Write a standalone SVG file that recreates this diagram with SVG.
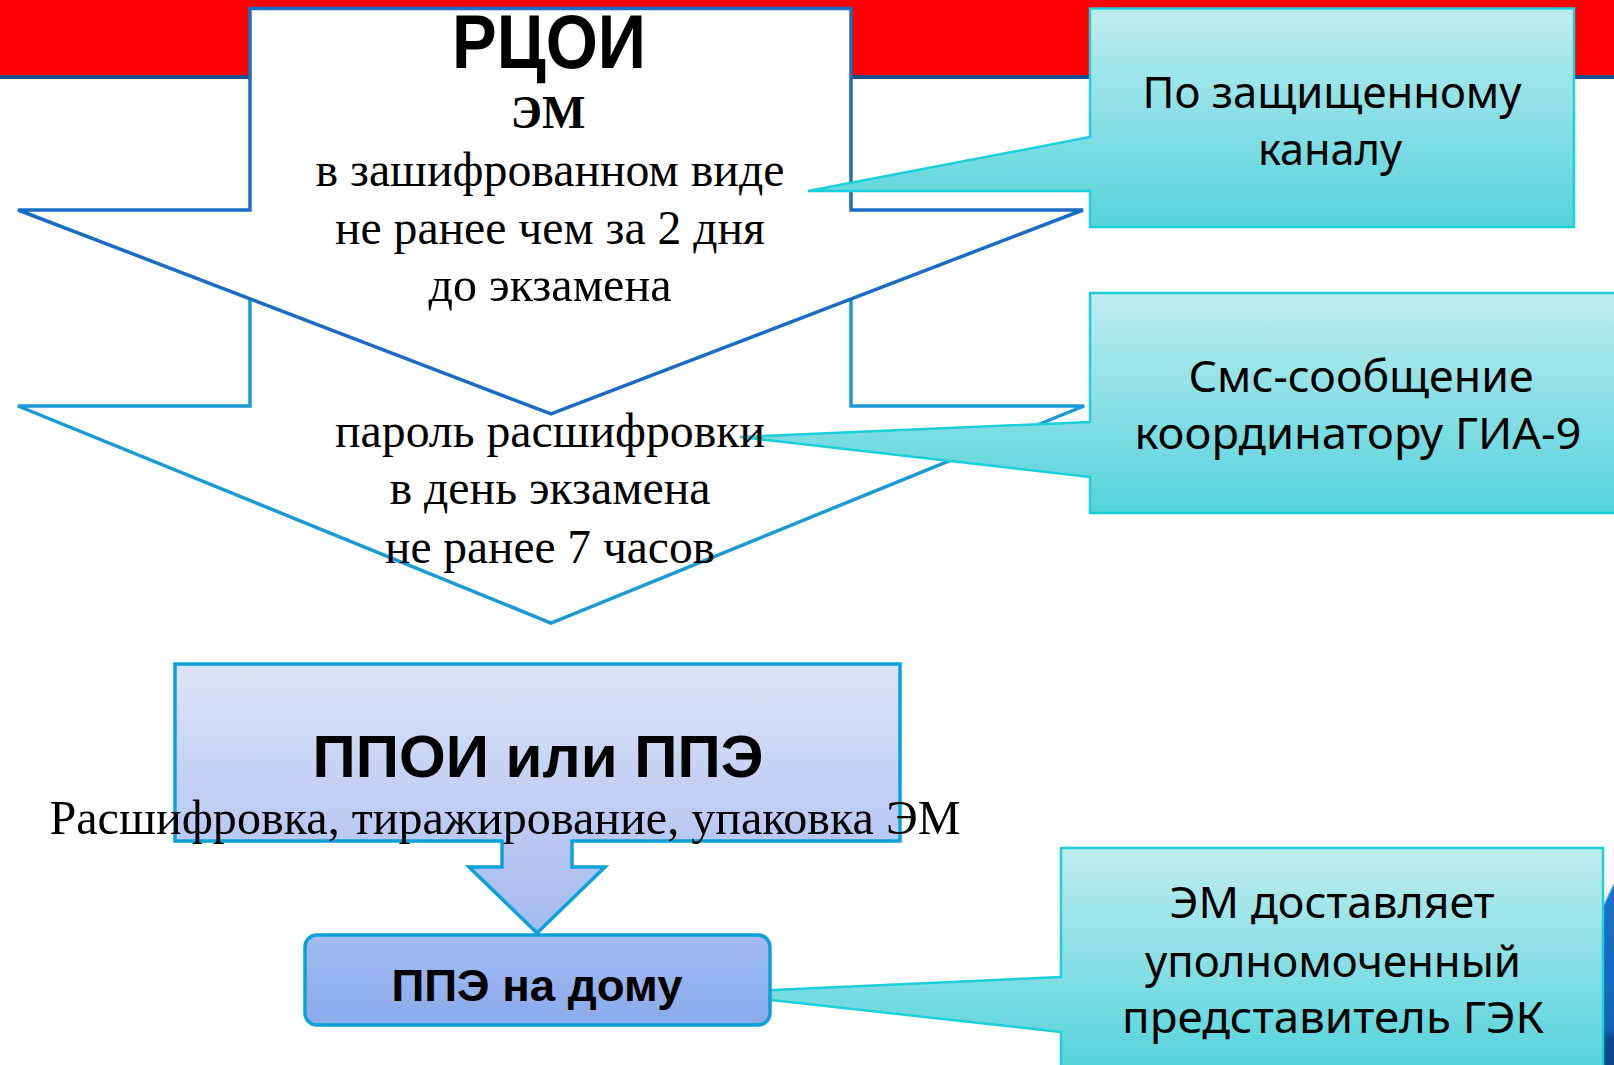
<svg xmlns="http://www.w3.org/2000/svg" width="1614" height="1065" viewBox="0 0 1614 1065">
<defs>
<style>
.bg{fill:#ffffff}
.arrow1{fill:#ffffff;stroke:#1a6cc4;stroke-width:3.5;stroke-linejoin:miter}
.arrow2{fill:#ffffff;stroke:#1a9ad6;stroke-width:3.5;stroke-linejoin:miter}
.callout{stroke:#1ccfd9;stroke-width:2.5;stroke-linejoin:miter}
.boxline{stroke:#0aa2d9;stroke-width:3.5}
.serif{font-family:"Liberation Serif","Times New Roman",serif;fill:#000;text-anchor:middle}
.sansb{font-family:"Liberation Sans",Arial,sans-serif;font-weight:bold;fill:#000;text-anchor:middle}
.sans{font-family:"Noto Sans","DejaVu Sans",sans-serif;fill:#000;text-anchor:middle;font-size:44px}
</style>
<linearGradient id="cyan1" gradientUnits="userSpaceOnUse" x1="0" y1="8" x2="0" y2="228">
<stop offset="0" stop-color="#bfecef"/><stop offset="1" stop-color="#54d3db"/>
</linearGradient>
<linearGradient id="cyan2" gradientUnits="userSpaceOnUse" x1="0" y1="293" x2="0" y2="513">
<stop offset="0" stop-color="#bfecef"/><stop offset="1" stop-color="#54d3db"/>
</linearGradient>
<linearGradient id="cyan3" gradientUnits="userSpaceOnUse" x1="0" y1="848" x2="0" y2="1068">
<stop offset="0" stop-color="#bfecef"/><stop offset="1" stop-color="#54d3db"/>
</linearGradient>
<linearGradient id="lav" gradientUnits="userSpaceOnUse" x1="0" y1="664" x2="0" y2="933">
<stop offset="0" stop-color="#dde4f7"/><stop offset="1" stop-color="#a4b9ee"/>
</linearGradient>
<linearGradient id="blue" gradientUnits="userSpaceOnUse" x1="0" y1="935" x2="0" y2="1025">
<stop offset="0" stop-color="#a3bbf1"/><stop offset="1" stop-color="#8baaea"/>
</linearGradient>
<linearGradient id="deco" gradientUnits="userSpaceOnUse" x1="0" y1="885" x2="0" y2="1065">
<stop offset="0" stop-color="#1a72cc"/><stop offset="0.8" stop-color="#1364b6"/><stop offset="0.85" stop-color="#0d4c8e"/><stop offset="1" stop-color="#0c4888"/>
</linearGradient>
</defs>

<rect class="bg" x="0" y="0" width="1614" height="1065"/>

<g id="header">
<rect x="0" y="0" width="1614" height="75" fill="#ff0000"/>
<rect x="0" y="75" width="1614" height="4" fill="#1d4f8c"/>
</g>

<g id="deco-right">
<polygon points="1604,905 1614,884 1614,1065 1604,1065" fill="url(#deco)"/>
<line x1="1604" y1="905" x2="1614" y2="884" stroke="#5aa8e8" stroke-width="1.5"/>
</g>

<g id="arrow-password">
<path class="arrow2" d="M250,220 H851 V406 H1084 L551,623 L18,406 H250 Z"/>
</g>

<g id="arrow-rcoi">
<path class="arrow1" d="M250,8.5 H851 V210 H1083 L551,414 L18,210 H250 Z"/>
</g>

<g id="connectors">
<g id="callout-channel">
<path class="callout" fill="url(#cyan1)" d="M1090,8.5 H1574 V227 H1090 V191 L808,191 L1090,137 Z"/>
</g>
<g id="callout-sms">
<path class="callout" fill="url(#cyan2)" d="M1090,293 H1620 V513 H1090 V477 L740,437 L1090,422 Z"/>
</g>
<g id="callout-delivery">
<path class="callout" fill="url(#cyan3)" d="M1061,848 H1603 V1070 H1061 V1032 L708,993 L1061,977 Z"/>
</g>
</g>

<g id="ppoi-box">
<rect x="175" y="664" width="725" height="177" fill="url(#lav)" class="boxline"/>
<polygon points="502,836 572,836 572,867 605,867 537,933 469,867 502,867" fill="url(#lav)"/>
<path d="M502,839.5 V867 H469 L537,933 L605,867 H572 V839.5" fill="none" class="boxline" stroke-linejoin="miter"/>
<text class="sansb" x="538" y="777" font-size="59" textLength="451" lengthAdjust="spacingAndGlyphs">ППОИ или ППЭ</text>
<text class="serif" x="505" y="834" font-size="48" textLength="911" lengthAdjust="spacingAndGlyphs">Расшифровка, тиражирование, упаковка ЭМ</text>
</g>

<g id="ppe-home">
<rect x="305" y="935" width="465" height="90" rx="12" ry="12" fill="url(#blue)" class="boxline"/>
<text class="sansb" x="537" y="1001" font-size="44" textLength="291" lengthAdjust="spacingAndGlyphs">ППЭ на дому</text>
</g>

<g id="rcoi-text">
<text class="sansb" x="549" y="68" font-size="76" textLength="194" lengthAdjust="spacingAndGlyphs">РЦОИ</text>
<text class="serif" x="548" y="128" font-size="46" font-weight="bold">ЭМ</text>
<text class="serif" x="550" y="186" font-size="48" textLength="469" lengthAdjust="spacingAndGlyphs">в зашифрованном виде</text>
<text class="serif" x="550" y="244" font-size="48" textLength="430" lengthAdjust="spacingAndGlyphs">не ранее чем за 2 дня</text>
<text class="serif" x="550" y="301" font-size="48" textLength="243" lengthAdjust="spacingAndGlyphs">до экзамена</text>
</g>

<g id="password-text">
<text class="serif" x="550" y="447" font-size="48" textLength="430" lengthAdjust="spacingAndGlyphs">пароль расшифровки</text>
<text class="serif" x="550" y="504" font-size="48" textLength="321" lengthAdjust="spacingAndGlyphs">в день экзамена</text>
<text class="serif" x="550" y="563" font-size="48" textLength="330" lengthAdjust="spacingAndGlyphs">не ранее 7 часов</text>
</g>

<g id="callout-texts">
<text class="sans" x="1332" y="108" textLength="379" lengthAdjust="spacingAndGlyphs">По защищенному</text>
<text class="sans" x="1330" y="165" textLength="144" lengthAdjust="spacingAndGlyphs">каналу</text>
<text class="sans" x="1361" y="392" textLength="345" lengthAdjust="spacingAndGlyphs">Смс-сообщение</text>
<text class="sans" x="1358" y="449" textLength="447" lengthAdjust="spacingAndGlyphs">координатору ГИА-9</text>
<text class="sans" x="1332" y="918" textLength="325" lengthAdjust="spacingAndGlyphs">ЭМ доставляет</text>
<text class="sans" x="1333" y="977" textLength="376" lengthAdjust="spacingAndGlyphs">уполномоченный</text>
<text class="sans" x="1333" y="1033" textLength="422" lengthAdjust="spacingAndGlyphs">представитель ГЭК</text>
</g>
</svg>
